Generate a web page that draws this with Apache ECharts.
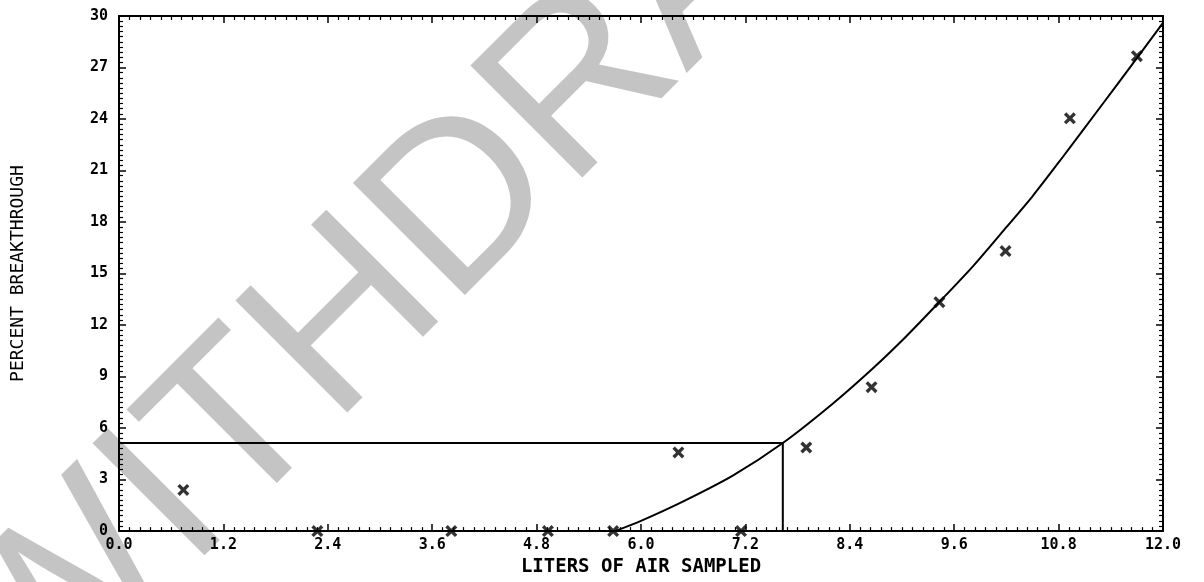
<!DOCTYPE html>
<html>
<head>
<meta charset="utf-8">
<script src="https://cdn.jsdelivr.net/npm/echarts@6/dist/echarts.min.js"></script>
<style>
html,body{margin:0;padding:0;background:#fff;}
#chart{width:1204px;height:582px;}
</style>
</head>
<body>
<div id="chart"></div>
<script>
// Measured breakthrough points (liters, percent)
const sampleX = [0.74, 2.28, 3.82, 4.93, 5.68, 7.15, 6.43, 7.90, 8.65, 9.43, 10.19, 10.93, 11.70];
const sampleY = [2.4, 0, 0, 0, 0, 0, 4.58, 4.87, 8.38, 13.33, 16.31, 24.04, 27.66];

// Fitted curve
const curveX = [5.70, 6.00, 6.48, 7.06, 7.63, 8.21, 8.67, 9.05, 9.44, 9.82, 10.20, 10.50, 10.82, 11.28, 11.70, 12.00];
const curveY = [0.00, 0.60, 1.72, 3.25, 5.13, 7.45, 9.50, 11.35, 13.40, 15.45, 17.70, 19.50, 21.60, 24.70, 27.55, 29.60];

// 5% breakthrough reference
const refX = [0, 7.63, 7.63];
const refY = [5.13, 5.13, 0];

const xTicks = { min: 0, max: 12, interval: 1.2 };
const yTicks = { min: 0, max: 30, interval: 3 };

const xName = 'LITERS OF AIR SAMPLED';
const yName = 'PERCENT BREAKTHROUGH';
const watermark = 'WITHDRAWN';

const zip = (a, b) => a.map((v, i) => [v, b[i]]);

const mono = 'DejaVu Sans Mono';
const tickStyle = {
  axisLine: { show: true, onZero: false, lineStyle: { color: '#000', width: 2 } },
  axisTick: { show: true, inside: true, length: 7, lineStyle: { color: '#000', width: 1.5 } },
  minorTick: { show: true, splitNumber: 10, length: 4, lineStyle: { color: '#000', width: 1.2 } },
  splitLine: { show: false },
  minorSplitLine: { show: false }
};

const chart = echarts.init(document.getElementById('chart'), null, { renderer: 'canvas' });
chart.setOption({
  backgroundColor: '#fff',
  animation: false,
  graphic: {
    elements: [{
      type: 'text',
      x: 503, y: 167,
      rotation: Math.PI / 4,
      z: -10,
      silent: true,
      style: {
        text: watermark,
        font: '230px "Liberation Sans"',
        fill: '#c4c4c4',
        align: 'center',
        verticalAlign: 'middle'
      }
    }]
  },
  grid: { left: 119, right: 41, top: 16, bottom: 46, containLabel: false },
  xAxis: [
    Object.assign({
      type: 'value', position: 'bottom',
      min: xTicks.min, max: xTicks.max, interval: xTicks.interval,
      name: xName, nameLocation: 'middle', nameGap: 24,
      nameTextStyle: { fontFamily: mono, fontWeight: 'bold', fontSize: 19, color: '#000' },
      axisLabel: { show: true, margin: 7, fontFamily: mono, fontWeight: 'bold', fontSize: 15, color: '#000',
        formatter: v => v.toFixed(1) }
    }, tickStyle),
    Object.assign({
      type: 'value', position: 'top',
      min: xTicks.min, max: xTicks.max, interval: xTicks.interval,
      axisLabel: { show: false }
    }, tickStyle)
  ],
  yAxis: [
    Object.assign({
      type: 'value', position: 'left',
      min: yTicks.min, max: yTicks.max, interval: yTicks.interval,
      name: yName, nameLocation: 'middle', nameGap: 92,
      nameTextStyle: { fontFamily: mono, fontSize: 18, color: '#000' },
      axisLabel: { show: true, margin: 11, fontFamily: mono, fontWeight: 'bold', fontSize: 15, color: '#000',
        formatter: v => String(Math.round(v)) }
    }, tickStyle),
    Object.assign({
      type: 'value', position: 'right',
      min: yTicks.min, max: yTicks.max, interval: yTicks.interval,
      axisLabel: { show: false }
    }, tickStyle)
  ],
  series: [
    {
      type: 'line', name: 'curve',
      data: zip(curveX, curveY),
      smooth: 0.25, showSymbol: false, symbol: 'none',
      lineStyle: { color: '#000', width: 2 },
      z: 3
    },
    {
      type: 'line', name: 'reference',
      data: zip(refX, refY),
      showSymbol: false, symbol: 'none',
      lineStyle: { color: '#000', width: 2 },
      z: 3
    },
    {
      type: 'scatter', name: 'samples',
      data: zip(sampleX, sampleY),
      symbol: 'path://M0,2L2,0L5,3L8,0L10,2L7,5L10,8L8,10L5,7L2,10L0,8L3,5Z',
      symbolSize: [12, 12],
      itemStyle: { color: '#000' },
      z: 4
    }
  ]
});
</script>
</body>
</html>
